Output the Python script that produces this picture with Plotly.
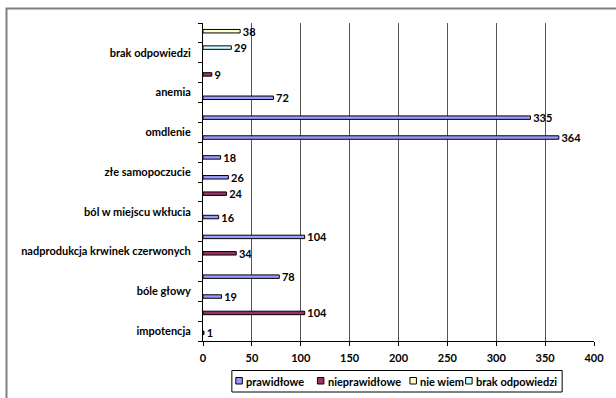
import plotly.graph_objects as go

# Rows listed top to bottom; every second row carries a category label
row_labels = ["", "brak odpowiedzi", "", "anemia", "", "omdlenie", "",
              "złe samopoczucie", "", "ból w miejscu wkłucia", "",
              "nadprodukcja krwinek czerwonych", "", "bóle głowy", "", "impotencja"]

series_names = ["prawidłowe", "nieprawidłowe", "nie wiem", "brak odpowiedzi"]
series_colors = ["#9999FF", "#993366", "#FFFFCC", "#CCFFFF"]

prawidlowe      = [None, None, None, 72, 335, 364, 18, 26, None, 16, 104, None, 78, 19, None, None]
nieprawidlowe   = [None, None, 9, None, None, None, None, None, 24, None, None, 34, None, None, 104, 1]
nie_wiem        = [38, None, None, None, None, None, None, None, None, None, None, None, None, None, None, None]
brak_odpowiedzi = [None, 29, None, None, None, None, None, None, None, None, None, None, None, None, None, None]

series_values = [prawidlowe, nieprawidlowe, nie_wiem, brak_odpowiedzi]

x_ticks = [0, 50, 100, 150, 200, 250, 300, 350, 400]

n = len(row_labels)
ypos = [n - 1 - i for i in range(n)]  # top row gets the highest position

W, H = 616, 398
ML, MR, MT, MB = 203, 20, 23, 57
PW, PH = W - ML - MR, H - MT - MB


def px(x):
    return (x - ML) / PW


def py(y):
    return (H - MB - y) / PH


FONT = "Lato"
FS = 11

fig = go.Figure()
for name, color, vals in zip(series_names, series_colors, series_values):
    fig.add_trace(go.Bar(
        name=name,
        orientation="h",
        x=vals,
        y=ypos,
        marker=dict(color=color, line=dict(color="#000000", width=1)),
        text=[("" if v is None else "\u00a0" + str(v)) for v in vals],
        textposition="outside",
        textfont=dict(family=FONT, size=FS, color="#000000", weight="bold"),
        constraintext="none",
        cliponaxis=False,
        showlegend=False,
    ))

label_pos = [p for p, t in zip(ypos, row_labels) if t]
label_txt = [t for t in row_labels if t]

fig.update_layout(
    width=W, height=H,
    margin=dict(l=ML, r=MR, t=MT, b=MB, pad=0),
    paper_bgcolor="#FFFFFF",
    plot_bgcolor="#FFFFFF",
    barmode="group",
    bargap=0.3,
    bargroupgap=0,
    showlegend=False,
    font=dict(family=FONT, size=FS, color="#000000", weight="bold"),
    xaxis=dict(
        range=[0, 400],
        tickmode="array", tickvals=x_ticks,
        ticks="outside", ticklen=4, tickcolor="#000000", tickwidth=1,
        showgrid=True, gridcolor="#555555", gridwidth=1,
        zeroline=False,
        showline=True, linecolor="#000000", linewidth=1,
        tickfont=dict(family=FONT, size=FS, color="#000000", weight="bold"),
        ticklabelstandoff=3,
    ),
    yaxis=dict(
        range=[-0.5, n - 0.5],
        tickmode="array", tickvals=label_pos, ticktext=label_txt,
        ticks="",
        ticklabelstandoff=9,
        showgrid=False, zeroline=False,
        showline=True, linecolor="#000000", linewidth=1,
        tickfont=dict(family=FONT, size=FS, color="#000000", weight="bold"),
        minor=dict(
            tickmode="array",
            tickvals=[k - 0.5 for k in range(n + 1)],
            ticks="outside", ticklen=4, tickcolor="#000000", tickwidth=1,
            showgrid=False,
        ),
    ),
)

shapes = []
# outer chart frame
shapes.append(dict(type="rect", xref="paper", yref="paper",
                   x0=px(5.5), x1=px(640), y0=py(8.5), y1=py(420),
                   line=dict(color="#808080", width=2), fillcolor="rgba(0,0,0,0)",
                   layer="below"))
# legend box
shapes.append(dict(type="rect", xref="paper", yref="paper",
                   x0=px(232), x1=px(564), y0=py(370.5), y1=py(392),
                   line=dict(color="#000000", width=1), fillcolor="#FFFFFF"))

annotations = []
swatch_x = [236, 318, 411, 467]
text_x = [244.5, 326.5, 419.5, 475.5]
for sx, tx, name, color in zip(swatch_x, text_x, series_names, series_colors):
    shapes.append(dict(type="rect", xref="paper", yref="paper",
                       x0=px(sx), x1=px(sx + 6.5), y0=py(377.5), y1=py(384),
                       line=dict(color="#000000", width=1), fillcolor=color))
    annotations.append(dict(xref="paper", yref="paper", x=px(tx), y=py(381),
                            xanchor="left", yanchor="middle", showarrow=False,
                            text=name,
                            font=dict(family=FONT, size=FS, color="#000000", weight="bold")))

fig.update_layout(shapes=shapes, annotations=annotations)

fig.write_html("out.html")
